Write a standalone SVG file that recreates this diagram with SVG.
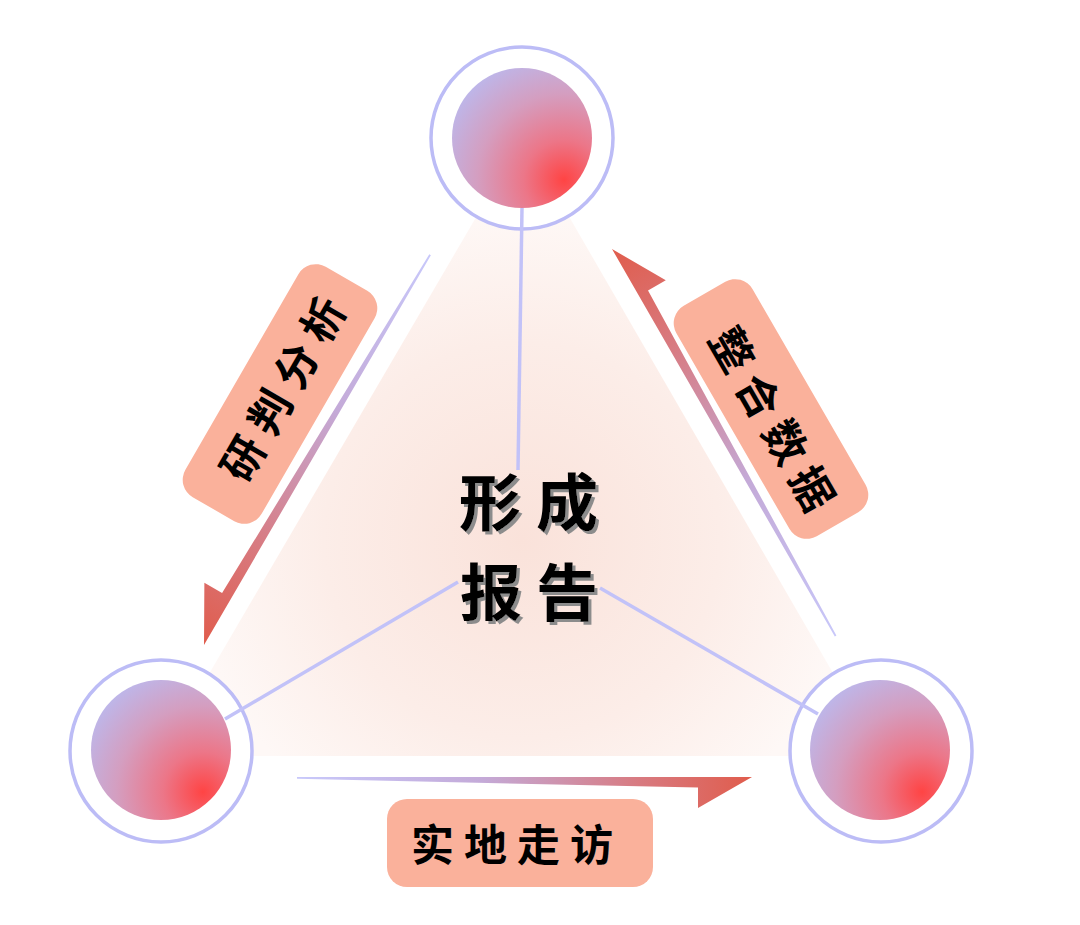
<svg xmlns="http://www.w3.org/2000/svg" width="1080" height="925" viewBox="0 0 1080 925">
  <style>
    .ring { fill: #ffffff; stroke: #bcbcf6; stroke-width: 3.5; }
    .ball { fill: url(#ballGrad); }
    .conn { stroke: #c2c2f8; stroke-width: 3.5; fill: none; stroke-linecap: butt; }
    .arrow { fill: url(#arrowGrad); }
    .tag { fill: #fab19b; }
    .tagText { font-family: "Noto Sans CJK SC", "Noto Sans", sans-serif; font-size: 43px; font-weight: bold; fill: #000000; text-anchor: middle; }
    .core { font-family: "Noto Sans CJK SC", "Noto Sans", sans-serif; font-size: 62px; font-weight: bold; text-anchor: middle; fill: #000000; }
  </style>
  <defs>
    <radialGradient id="ballGrad" cx="0.8" cy="0.8" r="0.95" fx="0.8" fy="0.8">
      <stop offset="0" stop-color="#ff4444"/>
      <stop offset="0.3" stop-color="#ec7688"/>
      <stop offset="0.65" stop-color="#d49ec0"/>
      <stop offset="1" stop-color="#bcb8ec"/>
    </radialGradient>
    <radialGradient id="triGrad" gradientUnits="userSpaceOnUse" cx="522" cy="540" r="330">
      <stop offset="0" stop-color="#fae2da"/>
      <stop offset="0.6" stop-color="#fcede8"/>
      <stop offset="1" stop-color="#fef8f6"/>
    </radialGradient>
    <linearGradient id="arrowGrad" gradientUnits="userSpaceOnUse" x1="-450" y1="0" x2="0" y2="0">
      <stop offset="0" stop-color="#c8c8fa"/>
      <stop offset="0.4" stop-color="#c4aad8"/>
      <stop offset="0.75" stop-color="#d87a80"/>
      <stop offset="1" stop-color="#e05c4c"/>
    </linearGradient>
    <filter id="shadow" x="-20%" y="-20%" width="140%" height="140%">
      <feOffset in="SourceAlpha" dx="3" dy="3" result="off"/>
      <feFlood flood-color="#8c8c8c"/>
      <feComposite in2="off" operator="in" result="sh"/>
      <feMerge>
        <feMergeNode in="sh"/>
        <feMergeNode in="SourceGraphic"/>
      </feMerge>
    </filter>
  </defs>

  <rect x="0" y="0" width="1080" height="925" fill="#ffffff"/>

  <!-- background triangle -->
  <polygon points="523,137 161,756 881,756" fill="url(#triGrad)"/>

  <!-- nodes -->
  <g id="node-top">
    <circle class="ring" cx="522" cy="138" r="91"/>
    <circle class="ball" cx="522" cy="138" r="70"/>
  </g>
  <g id="node-left">
    <circle class="ring" cx="161" cy="751" r="91"/>
    <circle class="ball" cx="161" cy="750" r="70"/>
  </g>
  <g id="node-right">
    <circle class="ring" cx="881" cy="751" r="91"/>
    <circle class="ball" cx="880" cy="750" r="70"/>
  </g>

  <!-- connectors -->
  <g id="connectors">
    <line class="conn" x1="522" y1="208" x2="518" y2="470"/>
    <line class="conn" x1="225" y1="719" x2="458" y2="582"/>
    <line class="conn" x1="600" y1="588" x2="818" y2="714"/>
    <g transform="translate(204,645) rotate(120.2)">
      <polygon class="arrow" points="0,0 -54,31 -54,10.5 -451,1.8 -451,0"/>
    </g>
    <g transform="translate(752,777) rotate(0)">
      <polygon class="arrow" points="0,0 -54,31 -54,10.5 -455,1.8 -455,0"/>
    </g>
    <g transform="translate(612,249) rotate(240.1)">
      <polygon class="arrow" points="0,0 -54,31 -54,10.5 -447,1.8 -447,0"/>
    </g>
  </g>

  <!-- labels -->
  <g id="label-left">
    <rect class="tag" x="-133" y="-44" width="266" height="88" rx="20" transform="translate(280,394) rotate(-60)"/>
    <text class="tagText" transform="translate(283,389) rotate(-60)" x="-80 -26.7 26.7 80" y="16">研判分析</text>
  </g>
  <g id="label-right">
    <rect class="tag" x="-133" y="-44" width="266" height="88" rx="20" transform="translate(771,409) rotate(60)"/>
    <text class="tagText" transform="translate(772,419) rotate(60)" x="-80 -26.7 26.7 80" y="16">整合数据</text>
  </g>
  <g id="label-bottom">
    <rect class="tag" x="387" y="799" width="266" height="88" rx="20"/>
    <text class="tagText" x="432.5 485.5 538.5 591.5" y="861">实地走访</text>
  </g>

  <!-- center -->
  <g id="node-center" filter="url(#shadow)">
    <text class="core" x="490 567" y="526">形成</text>
    <text class="core" x="491 567" y="616">报告</text>
  </g>
</svg>
